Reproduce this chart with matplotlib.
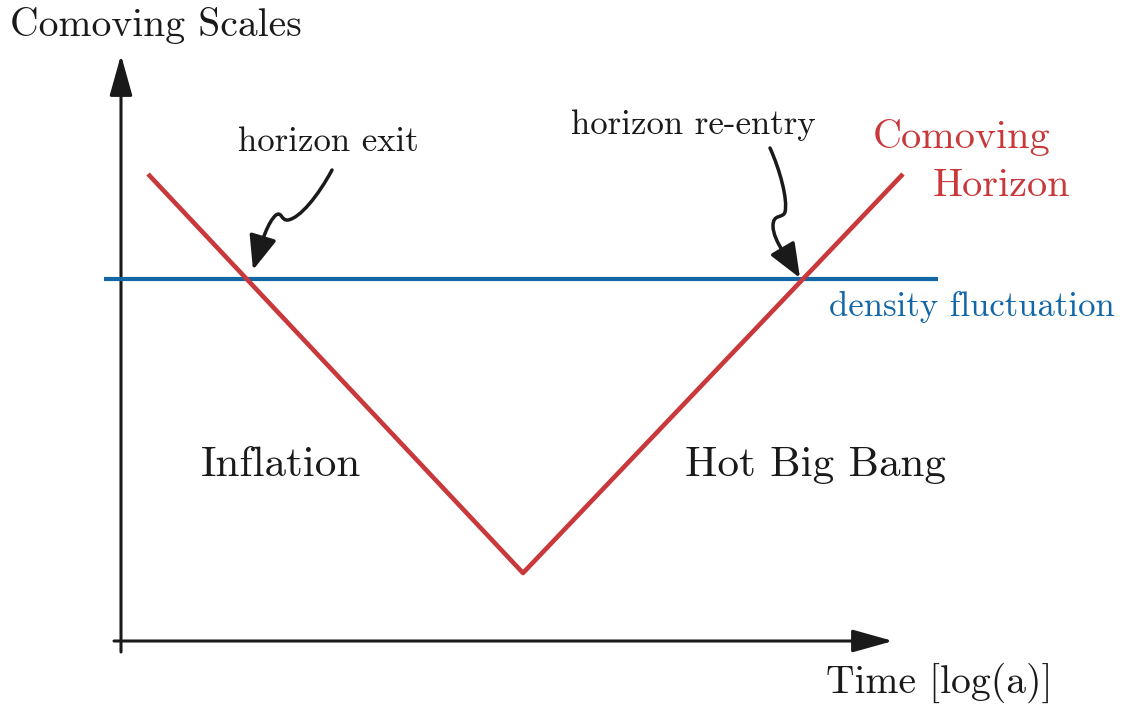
"""
Comoving horizon vs. density fluctuation scale (schematic)
"""

import matplotlib
matplotlib.use("Agg")
import matplotlib.pyplot as plt
from matplotlib.patches import FancyArrowPatch
from matplotlib.path import Path

plt.rcParams["font.family"] = ["cmr10", "DejaVu Serif"]
plt.rcParams["axes.formatter.use_mathtext"] = True

RED = "#c9383a"
BLUE = "#1467a6"
INK = "#1a1a1a"

# schematic coordinates (canvas units, y grows downward)
horizon_x = [148, 523, 903]
horizon_y = [174, 573, 174]
fluct_x = [104, 938]
fluct_y = [279, 279]

# curly pointers: start, then three cubic segments (ctrl, ctrl, end)
exit_pts = [(332, 170),
            (318, 196), (300, 218), (288, 220),
            (281, 221), (282, 211), (276, 215),
            (268, 222), (262, 240), (253, 270)]
reentry_pts = [(770, 148),
               (780, 170), (788, 200), (785, 212),
               (783, 219), (773, 213), (773, 226),
               (773, 241), (790, 261), (800, 278)]

fig = plt.figure(figsize=(11.24, 7.09), dpi=100)
ax = fig.add_axes([0, 0, 1, 1])
ax.set_xlim(0, 1124)
ax.set_ylim(709, 0)
ax.axis("off")

# axes arrows
axis_head = "-|>,head_length=2.5,head_width=0.7"
ax.annotate("", xy=(121, 55), xytext=(121, 652),
            arrowprops=dict(arrowstyle=axis_head, color=INK, lw=2.2, shrinkA=0, shrinkB=0))
ax.annotate("", xy=(893, 641), xytext=(114, 641),
            arrowprops=dict(arrowstyle=axis_head, color=INK, lw=2.2, shrinkA=0, shrinkB=0))

ax.plot(fluct_x, fluct_y, color=BLUE, lw=3.0, solid_capstyle="butt", zorder=3)
ax.plot(horizon_x, horizon_y, color=RED, lw=3.3, solid_capstyle="butt", zorder=4)

for pts in (exit_pts, reentry_pts):
    codes = [Path.MOVETO] + [Path.CURVE4] * (len(pts) - 1)
    arr = FancyArrowPatch(path=Path(pts, codes),
                          arrowstyle="-|>,head_length=21,head_width=8.5",
                          color=INK, lw=2.5, shrinkA=0, shrinkB=0, zorder=5)
    ax.add_patch(arr)

ax.text(10, 26, "Comoving Scales", fontsize=28.5, va="center", ha="left", color=INK)
ax.text(1052, 683, "Time [log(a)]", fontsize=28.5, va="center", ha="right", color=INK)
ax.text(328, 142, "horizon exit", fontsize=25, va="center", ha="center", color=INK)
ax.text(693, 125, "horizon re-entry", fontsize=25, va="center", ha="center", color=INK)
ax.text(962, 137, "Comoving", fontsize=29, va="center", ha="center", color=RED)
ax.text(1070, 186, "Horizon", fontsize=29, va="center", ha="right", color=RED)
ax.text(1115, 307, "density fluctuation", fontsize=25, va="center", ha="right", color=BLUE)
ax.text(281, 465, "Inflation", fontsize=31, va="center", ha="center", color=INK)
ax.text(815, 465, "Hot Big Bang", fontsize=31, va="center", ha="center", color=INK)

fig.savefig("out.png", dpi=100)
